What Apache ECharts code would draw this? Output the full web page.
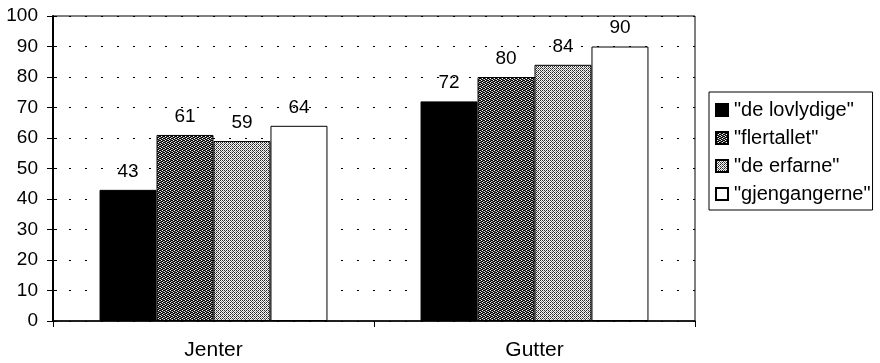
<!DOCTYPE html>
<html>
<head>
<meta charset="utf-8">
<script src="https://cdn.jsdelivr.net/npm/echarts@6/dist/echarts.min.js"></script>
<style>
  html, body { margin: 0; padding: 0; background: #fff; }
  #chart { width: 880px; height: 363px; }
</style>
</head>
<body>
<div id="chart"></div>
<script>
// data
const categories = ['Jenter', 'Gutter']
const seriesNames = ['"de lovlydige"', '"flertallet"', '"de erfarne"', '"gjengangerne"']
const lovlydige = [43, 72]
const flertallet = [61, 80]
const erfarne = [59, 84]
const gjengangerne = [64, 90]

// little tiles to mimic the scanned hatch fills
function makeTile(rows) {
  const c = document.createElement('canvas')
  c.width = rows[0].length
  c.height = rows.length
  const ctx = c.getContext('2d')
  rows.forEach((row, y) => {
    row.forEach((col, x) => {
      ctx.fillStyle = col
      ctx.fillRect(x, y, 1, 1)
    })
  })
  return c
}

const darkTile = makeTile([
  ['#000', '#fff', '#444', '#000'],
  ['#888', '#000', '#000', '#ccc'],
  ['#000', '#555', '#fff', '#000'],
  ['#ddd', '#000', '#222', '#777']
])
const lightTile = makeTile([
  ['#222', '#fff', '#333', '#eee'],
  ['#fff', '#999', '#fff', '#444'],
  ['#333', '#eee', '#222', '#fff'],
  ['#ddd', '#444', '#fff', '#aaa']
])

const fills = [
  '#000',
  { image: darkTile, repeat: 'repeat' },
  { image: lightTile, repeat: 'repeat' },
  '#fff'
]
const values = [lovlydige, flertallet, erfarne, gjengangerne]
const font = "'Liberation Sans', Arial, sans-serif"

const chart = echarts.init(document.getElementById('chart'), null, { renderer: 'canvas' })

chart.setOption({
  animation: false,
  textStyle: { fontFamily: font, color: '#000' },
  grid: {
    left: 53, right: 185, top: 16, bottom: 42,
    show: true, borderColor: '#000', borderWidth: 1
  },
  legend: {
    orient: 'vertical',
    left: 709, top: 92,
    width: 165,
    padding: [8, 2, 6, 6],
    itemGap: 8,
    itemWidth: 12, itemHeight: 12,
    borderColor: '#000', borderWidth: 1,
    icon: 'rect',
    textStyle: { fontSize: 20, color: '#000', fontFamily: font, padding: [0, 0, 0, 1] },
    data: seriesNames
  },
  xAxis: {
    type: 'category',
    data: categories,
    axisLine: { lineStyle: { color: '#000', width: 1.5 } },
    axisTick: { show: true, length: 6, lineStyle: { color: '#000' } },
    axisLabel: { fontSize: 21, color: '#000', margin: 19, fontFamily: font },
    splitLine: { show: false }
  },
  yAxis: [{
    type: 'value',
    min: 0, max: 100, interval: 10,
    axisLine: { show: true, lineStyle: { color: '#000', width: 2 } },
    axisTick: { show: true, length: 6, lineStyle: { color: '#000' } },
    axisLabel: { fontSize: 19, color: '#000', margin: 15, fontFamily: font },
    splitLine: { show: true, lineStyle: { color: '#000', type: [2, 14], width: 1.2 } }
  }, {
    // inner half of the crossing ticks
    type: 'value', position: 'left',
    min: 0, max: 100, interval: 10,
    axisLine: { show: false },
    axisTick: { show: true, inside: true, length: 4, lineStyle: { color: '#000' } },
    axisLabel: { show: false },
    splitLine: { show: false }
  }],
  series: seriesNames.map((name, i) => ({
    name: name,
    type: 'bar',
    data: values[i],
    barGap: '0%',
    barCategoryGap: '29%',
    itemStyle: { color: fills[i], borderColor: '#000', borderWidth: 1 },
    label: {
      show: true, position: 'top', distance: 9,
      fontSize: 19, color: '#000', fontFamily: font
    }
  }))
})
</script>
</body>
</html>
